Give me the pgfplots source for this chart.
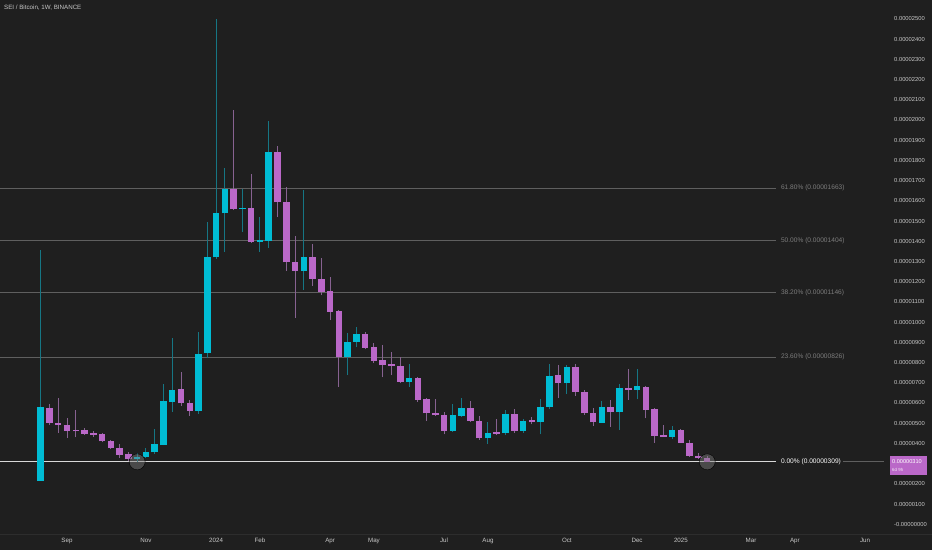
\documentclass[border=0pt]{standalone}
\usepackage{fontspec}
\setmainfont{Liberation Sans}
\usepackage{pgfplots}
\pgfplotsset{compat=1.18}
\usepackage{pgfplotstable}

\definecolor{bg}{RGB}{31,31,31}
\definecolor{up}{RGB}{0,188,212}
\definecolor{dn}{RGB}{186,104,200}
\definecolor{upwick}{RGB}{22,118,132}
\definecolor{dnwick}{RGB}{135,98,145}
\definecolor{fib}{RGB}{95,95,95}
\definecolor{fibtxt}{RGB}{125,125,125}
\definecolor{scaletxt}{RGB}{200,200,200}
\definecolor{sep}{RGB}{45,45,45}

% weekly candles, prices in 1e-8 BTC
% w = week index from 14 Aug 2023
\pgfplotstableread{
w o h l c
0 216 1357 214 579
11 323 351 309 334
12 333 376 326 358
13 356 471 350 397
14 391 694 390 610
15 606 920 557 664
18 560 950 545 842
19 846 1497 821 1323
20 1320 2497 1311 1541
21 1538 1761 1348 1660
23 1559 1660 1447 1566
25 1398 1518 1348 1406
26 1403 1996 1368 1841
30 1254 1653 1159 1320
35 826 945 738 903
36 903 975 875 940
42 702 793 678 722
47 461 595 458 541
48 536 623 532 577
51 425 507 396 453
53 453 565 440 545
55 463 522 453 511
57 504 618 445 582
58 579 791 569 733
60 697 788 644 779
64 502 611 500 582
66 554 694 466 676
68 666 767 618 683
72 433 486 420 466
}\bull

\pgfplotstableread{
w o h l c
1 577 595 491 503
2 503 625 453 490
3 491 524 428 463
4 464 564 430 460
5 465 476 443 448
6 451 460 434 441
7 445 450 405 410
8 412 418 372 377
9 379 396 329 345
10 349 357 315 321
16 668 752 585 598
17 601 615 536 562
22 1660 2049 1555 1559
24 1563 1732 1393 1395
27 1841 1872 1521 1592
28 1592 1667 1254 1296
29 1296 1426 1022 1254
31 1320 1385 1180 1213
32 1213 1318 1134 1150
33 1154 1225 1010 1051
34 1055 1060 681 826
37 940 952 865 873
38 875 895 799 809
39 813 887 727 786
40 791 851 738 781
41 783 829 700 704
43 722 730 606 615
44 620 623 512 549
45 549 620 535 539
46 541 557 445 461
49 577 611 507 512
50 512 536 417 425
52 458 519 442 448
54 545 570 453 461
56 514 529 494 504
59 738 788 626 697
61 779 791 635 656
62 656 664 541 549
63 549 577 488 504
65 582 615 483 554
67 672 767 615 666
69 681 685 524 565
70 570 574 404 438
71 442 491 431 433
73 466 470 401 404
74 404 417 334 338
75 339 354 321 326
76 329 337 309 310
}\bear

\begin{document}
\begin{tikzpicture}[x=1pt,y=1pt]
\fill[bg] (0,0) rectangle (932,-550);
\useasboundingbox (0,0) rectangle (932,-550);
\draw[sep, line width=1pt] (0,-534.5) -- (932,-534.5);
\node[anchor=west, inner sep=0pt, text=scaletxt, font=\fontsize{6.2}{7}\selectfont] at (4,-8) {SEI / Bitcoin, 1W, BINANCE};
\begin{axis}[
    at={(0,0)}, anchor=north west,
    scale only axis,
    width=884pt, height=534pt,
    xmin=-4.64, xmax=96.16,
    ymin=-48, ymax=2593,
    axis line style={draw=none},
    major tick length=0pt,
    clip=false,
    xtick={3,12,20,25,33,38,46,51,60,68,73,81,86,94},
    xticklabels={Sep,Nov,2024,Feb,Apr,May,Jul,Aug,Oct,Dec,2025,Mar,Apr,Jun},
    xticklabel style={anchor=north, inner sep=0pt, yshift=-4pt,
        text=scaletxt, font=\fontsize{6.2}{7}\selectfont},
    ytick={0,100,200,400,500,600,700,800,900,1000,1100,1200,1300,1400,
        1500,1600,1700,1800,1900,2000,2100,2200,2300,2400,2500},
    yticklabels={-0.00000000,0.00000100,0.00000200,0.00000400,
        0.00000500,0.00000600,0.00000700,0.00000800,0.00000900,0.00001000,
        0.00001100,0.00001200,0.00001300,0.00001400,0.00001500,0.00001600,
        0.00001700,0.00001800,0.00001900,0.00002000,0.00002100,0.00002200,
        0.00002300,0.00002400,0.00002500},
    yticklabel pos=right,
    yticklabel style={anchor=west, inner sep=0pt, xshift=10pt,
        text=scaletxt, font=\fontsize{5.8}{7}\selectfont},
]
% fibonacci retracement levels
\addplot[fib, line width=1pt] coordinates {(-4.64,1663) (83.84,1663)};
\addplot[fib, line width=1pt] coordinates {(-4.64,1404) (83.84,1404)};
\addplot[fib, line width=1pt] coordinates {(-4.64,1146) (83.84,1146)};
\addplot[fib, line width=1pt] coordinates {(-4.64,826) (83.84,826)};
\addplot[white!85!black, line width=1pt] coordinates {(-4.64,309) (83.84,309)};
\addplot[fib, line width=1pt] coordinates {(91.48,310) (96.16,310)};
\begin{scope}[font=\fontsize{6.6}{7}\selectfont]
\node[anchor=west, inner sep=0pt, text=fibtxt] at (axis cs:84.4,1663) {61.80\% (0.00001663)};
\node[anchor=west, inner sep=0pt, text=fibtxt] at (axis cs:84.4,1404) {50.00\% (0.00001404)};
\node[anchor=west, inner sep=0pt, text=fibtxt] at (axis cs:84.4,1146) {38.20\% (0.00001146)};
\node[anchor=west, inner sep=0pt, text=fibtxt] at (axis cs:84.4,826) {23.60\% (0.00000826)};
\node[anchor=west, inner sep=0pt, text=white] at (axis cs:84.4,309) {0.00\% (0.00000309)};
\end{scope}
% wicks
\addplot[draw=none, mark=none, error bars/.cd, y dir=plus, y explicit,
    error mark=none, error bar style={line width=1pt, draw=upwick}]
    table[x=w, y=l, y error expr=\thisrow{h}-\thisrow{l}] {\bull};
\addplot[draw=none, mark=none, error bars/.cd, y dir=plus, y explicit,
    error mark=none, error bar style={line width=1pt, draw=dnwick}]
    table[x=w, y=l, y error expr=\thisrow{h}-\thisrow{l}] {\bear};
% bodies
\addplot[draw=none, mark=none, error bars/.cd, y dir=plus, y explicit,
    error mark=none, error bar style={line width=6.5pt, draw=up}]
    table[x=w, y=o, y error expr=\thisrow{c}-\thisrow{o}] {\bull};
\addplot[draw=none, mark=none, error bars/.cd, y dir=plus, y explicit,
    error mark=none, error bar style={line width=6.5pt, draw=dn}]
    table[x=w, y=c, y error expr=\thisrow{o}-\thisrow{c}] {\bear};
% low markers
\addplot[only marks, mark=*, mark size=8pt, mark options={draw=none, fill=gray, fill opacity=0.45}]
    coordinates {(11,309) (76,309)};
% last price tag
\node[anchor=north west, fill=dn, inner sep=0pt, minimum width=37pt, minimum height=19pt] at (axis cs:96.16,338) [xshift=6pt] {};
\node[anchor=west, inner sep=0pt, text=white, font=\fontsize{5.6}{6}\selectfont] at (axis cs:96.16,311) [xshift=8pt] {0.00000310};
\node[anchor=west, inner sep=0pt, text=white!85!dn, font=\fontsize{4.4}{5}\selectfont] at (axis cs:96.16,268) [xshift=8pt] {6d 9h};
\end{axis}
\end{tikzpicture}
\end{document}
